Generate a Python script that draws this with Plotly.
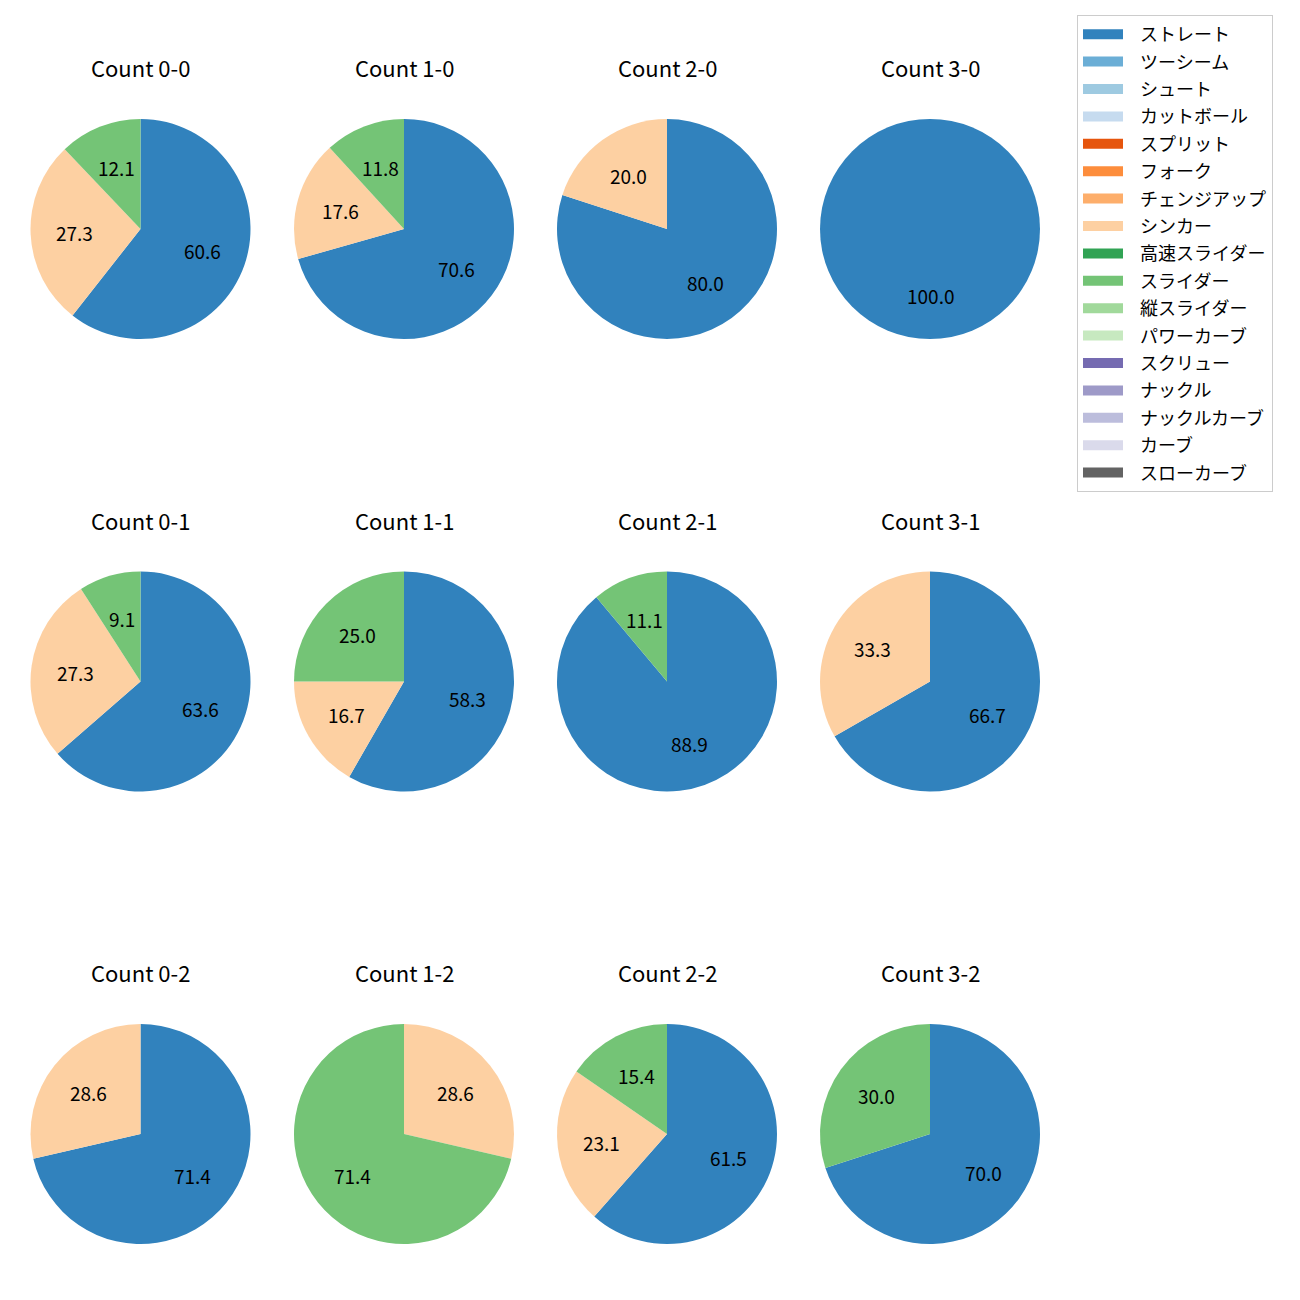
import math
import plotly.graph_objects as go

# ---- data ----
pitch_types = ["ストレート", "ツーシーム", "シュート", "カットボール", "スプリット", "フォーク",
               "チェンジアップ", "シンカー", "高速スライダー", "スライダー", "縦スライダー",
               "パワーカーブ", "スクリュー", "ナックル", "ナックルカーブ", "カーブ", "スローカーブ"]
pitch_colors = ["#3182bd", "#6baed6", "#9ecae1", "#c6dbef", "#e6550d", "#fd8d3c",
                "#fdae6b", "#fdd0a2", "#31a354", "#74c476", "#a1d99b", "#c7e9c0",
                "#756bb1", "#9e9ac8", "#bcbddc", "#dadaeb", "#636363"]

counts = ["0-0", "1-0", "2-0", "3-0",
          "0-1", "1-1", "2-1", "3-1",
          "0-2", "1-2", "2-2", "3-2"]
straight = [60.6, 70.6, 80.0, 100.0, 63.6, 58.3, 88.9, 66.7, 71.4, 0.0, 61.5, 70.0]
sinker = [27.3, 17.6, 20.0, 0.0, 27.3, 16.7, 0.0, 33.3, 28.6, 28.6, 23.1, 0.0]
slider = [12.1, 11.8, 0.0, 0.0, 9.1, 25.0, 11.1, 0.0, 0.0, 71.4, 15.4, 30.0]

series = {"ストレート": straight, "シンカー": sinker, "スライダー": slider}

# ---- layout constants (page body adds an 8px offset) ----
W = H = 1300
OFF = 8
col_x = [140.5 - OFF, 404 - OFF, 667 - OFF, 930 - OFF]
row_y = [229 - OFF, 681.5 - OFF, 1134 - OFF]
R = 110
FONT = "Noto Sans CJK JP, Noto Sans, sans-serif"
color_of = dict(zip(pitch_types, pitch_colors))

fig = go.Figure()
annotations = []

for i, cnt in enumerate(counts):
    cx = col_x[i % 4]
    cy = row_y[i // 4]
    labels, values = [], []
    for name in pitch_types:
        if name in series and series[name][i] > 0:
            labels.append(name)
            values.append(series[name][i])
    fig.add_trace(go.Pie(
        labels=labels, values=values,
        marker=dict(colors=[color_of[l] for l in labels], line=dict(width=0)),
        sort=False, direction="clockwise", rotation=0,
        textinfo="none", hoverinfo="label+value", showlegend=False,
        domain=dict(x=[(cx - R) / W, (cx + R) / W],
                    y=[1 - (cy + R) / H, 1 - (cy - R) / H]),
    ))
    total = sum(values)
    cum = 0.0
    for v in values:
        mid = (cum + v / 2) / total
        ang = math.radians(90 - 360 * mid)
        px = cx + 0.6 * R * math.cos(ang)
        py = cy - 0.6 * R * math.sin(ang)
        annotations.append(dict(
            x=px / W, y=1 - py / H, xref="paper", yref="paper",
            text=f"{v:.1f}", showarrow=False,
            font=dict(family=FONT, size=19, color="#000000"),
            xanchor="center", yanchor="middle"))
        cum += v
    annotations.append(dict(
        x=cx / W, y=1 - (cy - 162) / H, xref="paper", yref="paper",
        text=f"Count {cnt}", showarrow=False,
        font=dict(family=FONT, size=22, color="#000000"),
        xanchor="center", yanchor="middle"))

# legend entries
for name, col in zip(pitch_types, pitch_colors):
    fig.add_trace(go.Scatter(
        x=[None], y=[None], mode="lines", name="\u00a0\u00a0\u00a0" + name,
        line=dict(color=col, width=12), legendgroup=name, showlegend=True,
        hoverinfo="skip"))

fig.update_layout(
    width=W, height=H,
    margin=dict(l=0, r=0, t=0, b=0),
    paper_bgcolor="white", plot_bgcolor="white",
    xaxis=dict(visible=False), yaxis=dict(visible=False),
    annotations=annotations,
    font=dict(family=FONT, size=18, color="#000000"),
    legend=dict(
        x=(1077 - OFF) / W, y=1 - (15 - OFF) / H, xanchor="left", yanchor="top",
        bgcolor="white", bordercolor="#cccccc", borderwidth=1,
        font=dict(family=FONT, size=18, color="#000000"),
        tracegroupgap=1, itemwidth=40,
    ),
)

fig.write_html("out.html")
